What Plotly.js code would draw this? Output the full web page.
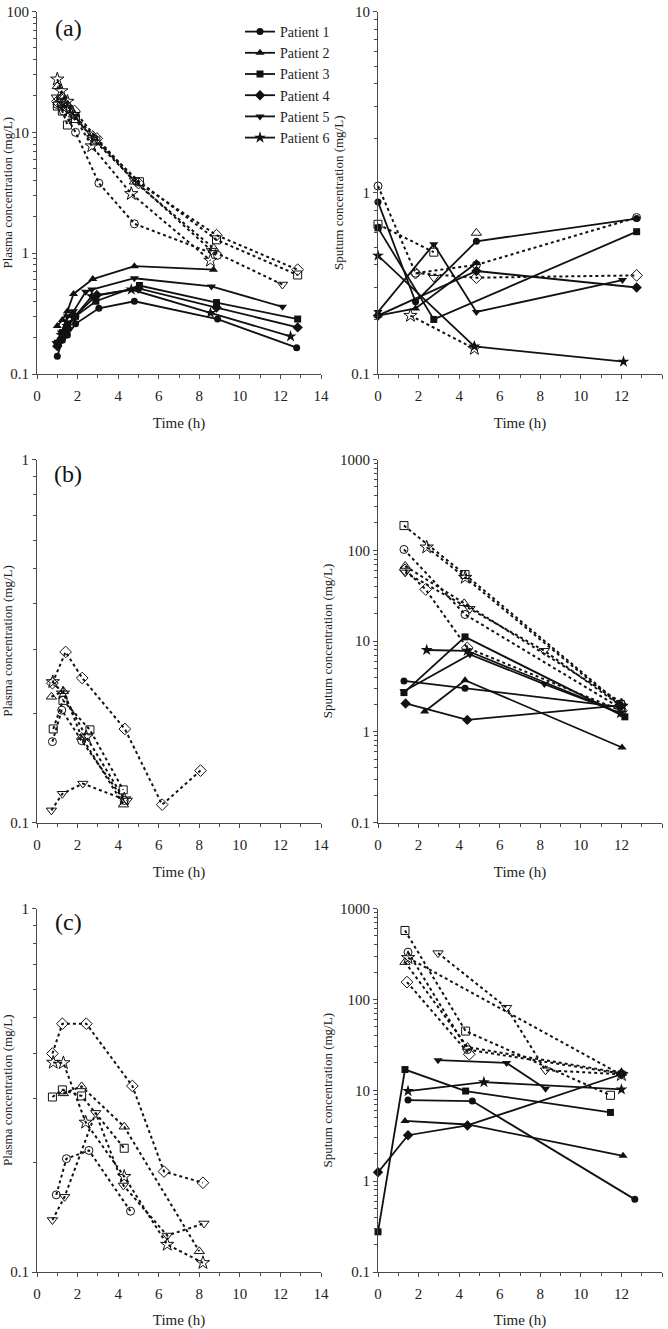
<!DOCTYPE html>
<html><head><meta charset="utf-8">
<script src="https://cdn.plot.ly/plotly-3.0.1.min.js"></script>
<style>html,body{margin:0;padding:0;background:#fff;overflow:hidden}#chart{width:668px;height:1329px}</style>
</head><body><div id="chart"></div>
<script>
const patients = ["Patient 1","Patient 2","Patient 3","Patient 4","Patient 5","Patient 6"];
const filledSymbols = ["circle","triangle-up","square","diamond","triangle-down","star"];
const openSymbols = ["circle-open","triangle-up-open","square-open","diamond-open","triangle-down-open","star-open"];
const panelLabels = ["(a)","(b)","(c)"];
const yTickVals = [0.1,1,10,100,1000];
const yTickText = ["0.1","1","10","100","1000"];

// ---- (a) plasma ----
const aPlasmaSolidTime = [
  [1.0,1.25,1.5,1.9,3.05,4.8,8.9,12.8],
  [1.0,1.25,1.5,1.8,2.75,4.8,8.7],
  [1.0,1.25,1.5,1.9,2.9,5.05,8.85,12.85],
  [1.0,1.25,1.5,1.85,2.95,5.0,8.85,12.85],
  [0.95,1.2,1.5,1.8,2.4,2.7,4.8,8.6,12.1],
  [1.0,1.2,1.5,1.8,2.7,4.65,8.55,12.5]];
const aPlasmaSolidConc = [
  [0.14,0.19,0.21,0.26,0.35,0.40,0.285,0.165],
  [0.25,0.28,0.33,0.46,0.61,0.78,0.73],
  [0.18,0.22,0.26,0.30,0.40,0.54,0.39,0.285],
  [0.17,0.20,0.24,0.30,0.45,0.51,0.355,0.243],
  [0.18,0.22,0.30,0.33,0.48,0.50,0.62,0.53,0.36],
  [0.18,0.21,0.25,0.29,0.44,0.50,0.32,0.205]];
const aPlasmaDotTime = [
  [1.0,1.3,1.9,3.05,4.8,8.9],
  [1.0,1.25,1.5,1.8,2.75,4.8,8.7],
  [1.0,1.25,1.5,1.9,2.9,5.05,8.85,12.85],
  [1.0,1.25,1.5,1.85,2.95,5.0,8.85,12.85],
  [0.95,1.2,1.5,1.8,2.7,4.8,8.6,12.1],
  [1.0,1.2,1.5,1.8,2.7,4.65,8.55]];
const aPlasmaDotConc = [
  [17,15,10,3.8,1.75,0.96],
  [24,20,17,14,9.5,3.9,1.1],
  [16.5,15,11.5,13,8.5,3.9,1.29,0.66],
  [18,17,16,15,8.9,3.8,1.41,0.73],
  [19.5,18,16,14,9,4.0,1.05,0.55],
  [27.5,22,18,14,7.7,3.1,0.87]];

// ---- (a) sputum ----
const aSputumSolidTime = [[0,1.85,4.85,12.75],[0,1.85,4.85],[0,2.75,12.75],[0,4.85,12.75],[0,2.75,4.85,12.05],[0,4.75,12.1]];
const aSputumSolidConc = [[0.89,0.25,0.54,0.72],[0.21,0.23,0.41],[0.64,0.20,0.61],[0.21,0.37,0.30],[0.22,0.52,0.22,0.33],[0.45,0.142,0.117]];
const aSputumDotTime = [[0,1.85,4.85,12.75],[4.85],[0,2.75],[1.85,4.85,12.75],[2.75],[1.6,4.75]];
const aSputumDotConc = [[1.09,0.36,0.40,0.73],[0.6],[0.67,0.47],[0.36,0.34,0.35],[0.34],[0.21,0.138]];

// ---- (b) plasma ----
const bPlasmaDotTime = [[0.76,1.22,2.2,4.3],[0.71,1.3,2.2,4.26],[0.8,1.28,2.61,4.25],[0.76,1.41,2.23,4.33,6.17,8.06],[0.71,1.25,2.26,4.45],[0.78,1.28,2.43,4.3]];
const bPlasmaDotConc = [[0.167,0.204,0.168,0.115],[0.222,0.23,0.172,0.112],[0.181,0.217,0.18,0.123],[0.242,0.295,0.25,0.181,0.112,0.139],[0.108,0.12,0.128,0.115],[0.244,0.227,0.172,0.116]];

// ---- (b) sputum ----
const bSputumSolidTime = [[1.28,4.29,11.95],[2.3,4.29,12.03],[1.28,4.29,12.17],[1.36,4.4,11.95],[1.28,4.53,8.2,11.95],[2.4,4.4,11.95]];
const bSputumSolidConc = [[3.63,3.02,1.88],[1.67,3.7,0.67],[2.7,11.1,1.46],[2.05,1.35,1.95],[2.8,7.1,3.35,1.6],[7.96,7.8,1.6]];
const bSputumDotTime = [[1.28,4.29,12.0],[1.34,4.25,12.0],[1.28,4.29,11.95],[1.34,2.35,4.4,12.0],[1.34,4.53,8.2,12.0],[2.4,4.3,12.0]];
const bSputumDotConc = [[102,19.6,1.8],[67,26,2.1],[187,54,2.0],[61,37,8.4,1.7],[57,22.6,7.8,1.9],[108,50,1.9]];

// ---- (c) plasma ----
const cPlasmaDotTime = [[0.95,1.45,2.56,4.61],[1.3,2.2,4.3,8.0],[0.76,1.25,2.2,4.3],[0.76,1.25,2.43,4.7,6.26,8.18],[0.76,1.36,2.89,4.26,6.42,8.23],[0.8,1.3,2.4,4.3,6.42,8.18]];
const cPlasmaDotConc = [[0.163,0.205,0.216,0.147],[0.31,0.324,0.251,0.114],[0.303,0.317,0.305,0.219],[0.399,0.482,0.482,0.325,0.189,0.176],[0.139,0.161,0.274,0.173,0.126,0.136],[0.377,0.376,0.258,0.183,0.119,0.106]];

// ---- (c) sputum ----
const cSputumSolidTime = [[1.48,4.65,12.66],[1.33,4.41,12.08],[0,1.33,4.32,11.46],[0,1.48,4.41,12.0],[2.96,6.34,8.26],[1.48,5.22,12.0]];
const cSputumSolidConc = [[7.8,7.6,0.63],[4.6,4.2,1.9],[0.277,16.9,9.8,5.7],[1.25,3.2,4.1,15],[21.4,20,10.4],[9.8,12.3,10.2]];
const cSputumDotTime = [[1.48,4.41,12.0],[1.33,4.41,12.0],[1.33,4.32,11.46],[1.43,4.5],[2.96,6.34,8.26,12.0],[1.48,12.0]];
const cSputumDotConc = [[331,28,15.2],[257,29.9,15.5],[573,44.8,8.8],[155,24.9],[323,81,16.6,15],[287,14.8]];

const FONT = "'Liberation Serif', 'Times New Roman', Times, serif";
const INK = "#111";
const AXIS = "#4a4a4a";
const markerSize = [7,8,7,8,8,9];

const traces = [];
function addSet(times, concs, ax, filled, legend) {
  for (let i = 0; i < times.length; i++) {
    traces.push({
      type: "scatter", mode: "lines+markers",
      x: times[i], y: concs[i],
      xaxis: "x" + ax, yaxis: "y" + ax,
      name: patients[i],
      legendgroup: "g" + i,
      showlegend: !!legend,
      line: filled ? {color: INK, width: 1.8} : {color: INK, width: 2, dash: "dot"},
      marker: filled
        ? {symbol: filledSymbols[i], size: markerSize[i], color: INK}
        : {symbol: openSymbols[i], size: markerSize[i] + 1, color: INK, line: {width: 1, color: INK}},
      cliponaxis: false
    });
  }
}
// ax numbering: 1=a plasma, 2=a sputum, 3=b plasma, 4=b sputum, 5=c plasma, 6=c sputum
addSet(aPlasmaDotTime, aPlasmaDotConc, "", false, false);
addSet(aPlasmaSolidTime, aPlasmaSolidConc, "", true, true);
addSet(aSputumDotTime, aSputumDotConc, "2", false, false);
addSet(aSputumSolidTime, aSputumSolidConc, "2", true, false);
addSet(bPlasmaDotTime, bPlasmaDotConc, "3", false, false);
addSet(bSputumDotTime, bSputumDotConc, "4", false, false);
addSet(bSputumSolidTime, bSputumSolidConc, "4", true, false);
addSet(cPlasmaDotTime, cPlasmaDotConc, "5", false, false);
addSet(cSputumDotTime, cSputumDotConc, "6", false, false);
addSet(cSputumSolidTime, cSputumSolidConc, "6", true, false);

function minorVals(lo, hi) {
  const v = [];
  for (let e = lo; e < hi; e++) for (let k = 2; k <= 9; k++) v.push(k * Math.pow(10, e));
  return v;
}
const W = 668, H = 1329;
const colX = [[37/W, 321/W], [378/W, 662/W]];
const rowY = [[1-374/H, 1-11.5/H], [1-822.5/H, 1-459.5/H], [1-1272/H, 1-908.5/H]];
const yRanges = [[-1,2],[-1,1],[-1,0],[-1,3],[-1,0],[-1,3]];
const yTitles = ["Plasma concentration (mg/L)","Sputum concentration (mg/L)"];

const layout = {
  width: W, height: H,
  margin: {l:0, r:0, t:0, b:0},
  paper_bgcolor: "#fff", plot_bgcolor: "#fff",
  font: {family: FONT, color: "#222", size: 14},
  showlegend: true,
  legend: {x: 240/W, y: 1-16/H, xanchor: "left", yanchor: "top",
           font: {family: FONT, size: 14, color: "#222"}, bgcolor: "rgba(0,0,0,0)",
           tracegroupgap: 4, itemwidth: 30, traceorder: "normal"},
  annotations: [],
  hovermode: false
};
for (let p = 0; p < 6; p++) {
  const row = Math.floor(p / 2), col = p % 2;
  const sfx = p === 0 ? "" : String(p + 1);
  const r = yRanges[p];
  layout["xaxis" + sfx] = {
    domain: colX[col], anchor: "y" + sfx, range: [0, 14],
    tickmode: "array", tickvals: [0,2,4,6,8,10,12,14],
    ticks: "outside", ticklen: 4, tickcolor: AXIS, tickwidth: 1,
    ticklabelstandoff: 4,
    minor: {tickmode: "linear", tick0: 0, dtick: 1, ticks: "outside", ticklen: 3, tickcolor: AXIS},
    showline: true, linecolor: AXIS, linewidth: 1, showgrid: false, zeroline: false,
    tickfont: {family: FONT, size: 15, color: "#222"},
    title: {text: "Time (h)", font: {family: FONT, size: 15, color: "#222"}, standoff: 14},
    automargin: false, fixedrange: true
  };
  layout["yaxis" + sfx] = {
    domain: rowY[row], anchor: "x" + sfx, type: "log", range: r,
    tickmode: "array",
    tickvals: yTickVals.filter(v => Math.log10(v) >= r[0] - 1e-9 && Math.log10(v) <= r[1] + 1e-9),
    ticktext: yTickText.filter((t, i) => Math.log10(yTickVals[i]) >= r[0] - 1e-9 && Math.log10(yTickVals[i]) <= r[1] + 1e-9),
    ticks: "outside", ticklen: 4, tickcolor: AXIS, tickwidth: 1,
    minor: {tickmode: "array", tickvals: minorVals(r[0], r[1]), ticks: "outside", ticklen: 3, tickcolor: AXIS},
    showline: true, linecolor: AXIS, linewidth: 1, showgrid: false, zeroline: false,
    tickfont: {family: FONT, size: 15, color: "#222"},
    title: {text: yTitles[col], font: {family: FONT, size: 13, color: "#222"}, standoff: 4},
    automargin: false, fixedrange: true
  };
  if (col === 0) {
    const yPos = [28, 474, 922][row];
    layout.annotations.push({
      text: panelLabels[row], xref: "paper", yref: "paper",
      x: 68/W, y: 1 - yPos/H, xanchor: "center", yanchor: "middle",
      showarrow: false, font: {family: FONT, size: 24, color: "#111"}
    });
  }
}
Plotly.newPlot("chart", traces, layout, {staticPlot: true, displayModeBar: false});
</script></body></html>
